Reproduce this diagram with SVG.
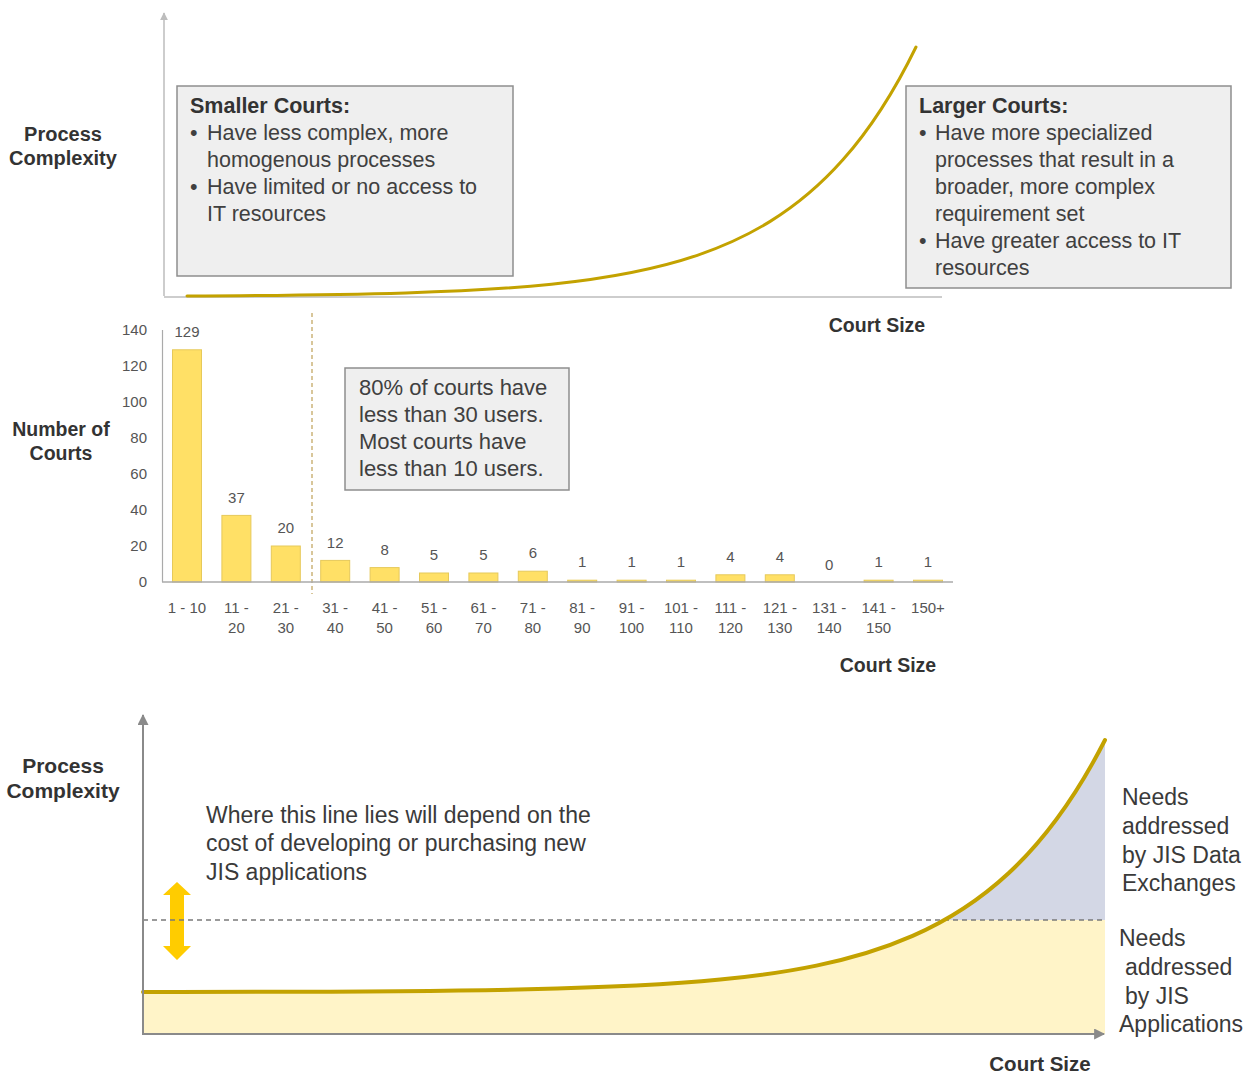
<svg xmlns="http://www.w3.org/2000/svg" width="1252" height="1074" viewBox="0 0 1252 1074">
  <style>
    text { font-family: "Liberation Sans", Arial, sans-serif; }
    .lbl { font-weight: bold; font-size: 20px; fill: #333; text-anchor: middle; }
    .box { fill: #efefef; stroke: #8e8e8e; stroke-width: 1.5; }
    .boxtitle { font-weight: bold; font-size: 21.5px; fill: #333; }
    .boxtxt { font-size: 21.5px; fill: #404040; }
    .axis-lt { stroke: #bdbdbd; stroke-width: 1.5; fill: none; }
    .axis { stroke: #8a8a8a; stroke-width: 2; fill: none; }
    .curve { fill: none; stroke: #c3a200; stroke-width: 3; stroke-linecap: round; }
    .bar { fill: #ffe066; stroke: #e6c95a; stroke-width: 1; }
    .tick { font-size: 15px; fill: #555; text-anchor: end; }
    .val { font-size: 15px; fill: #555; text-anchor: middle; }
    .cat { font-size: 15px; fill: #555; text-anchor: middle; }
    .body { font-size: 23px; fill: #3a3a3a; }
  </style>
  <defs>
    <marker id="arrowLight" viewBox="0 0 10 10" refX="9" refY="5" markerWidth="8" markerHeight="10" markerUnits="userSpaceOnUse" orient="auto">
      <path d="M0,0 L10,5 L0,10 Z" fill="#bdbdbd"/>
    </marker>
    <marker id="arrowDark" viewBox="0 0 10 10" refX="9" refY="5" markerWidth="12" markerHeight="11" markerUnits="userSpaceOnUse" orient="auto">
      <path d="M0,0 L10,5 L0,10 Z" fill="#8a8a8a"/>
    </marker>
    <clipPath id="aboveLine"><rect x="0" y="700" width="1252" height="220"/></clipPath>
    <clipPath id="belowLine"><rect x="0" y="920" width="1252" height="120"/></clipPath>
    <!-- area under the lower complexity curve, split by the threshold line -->
    <path id="underCurve" d="M143,992 C271.3,991.9 399.5,992.1 527.8,989.3 C591.9,987.9 656.1,985.9 720.2,979.6 C752.3,976.5 784.3,972.2 816.4,965.6 C848.5,959 880.5,950 912.6,935.9 C944.7,921.8 976.7,902.8 1008.8,873 C1040.9,843.2 1072.9,803 1105,740 L1105,1034 L143,1034 Z"/>
  </defs>

  <!-- Panel 1: complexity curve by court size -->
  <g id="panel-complexity-top">
    <g id="axes-top">
      <line class="axis-lt" x1="164" y1="296" x2="164" y2="13" marker-end="url(#arrowLight)"/>
      <line class="axis-lt" x1="164" y1="297" x2="942" y2="297"/>
    </g>
    <g id="label-process-top">
      <text class="lbl" x="63" y="141">Process</text>
      <text class="lbl" x="63" y="165">Complexity</text>
    </g>
    <g id="box-smaller">
      <rect class="box" x="177" y="86" width="336" height="190"/>
      <text class="boxtitle" x="190" y="113">Smaller Courts:</text>
      <text class="boxtxt" x="190" y="140">•</text>
      <text class="boxtxt" x="207" y="140">Have less complex, more</text>
      <text class="boxtxt" x="207" y="167">homogenous processes</text>
      <text class="boxtxt" x="190" y="194">•</text>
      <text class="boxtxt" x="207" y="194">Have limited or no access to</text>
      <text class="boxtxt" x="207" y="221">IT resources</text>
    </g>
    <path id="curve-top" class="curve" d="M187,296 C259.9,295.6 332.8,295.1 405.7,292.9 C454.3,291.4 502.9,289.2 551.5,284.2 C600.1,279.2 648.7,271.8 697.3,255.3 C721.6,247 745.9,236.4 770.2,221.4 C794.5,206.4 818.8,187 843.1,159.6 C867.4,132.2 891.7,96.9 916,47"/>
    <g id="box-larger">
      <rect class="box" x="906" y="86" width="325" height="202"/>
      <text class="boxtitle" x="919" y="113">Larger Courts:</text>
      <text class="boxtxt" x="919" y="140">•</text>
      <text class="boxtxt" x="935" y="140">Have more specialized</text>
      <text class="boxtxt" x="935" y="167">processes that result in a</text>
      <text class="boxtxt" x="935" y="194">broader, more complex</text>
      <text class="boxtxt" x="935" y="221">requirement set</text>
      <text class="boxtxt" x="919" y="248">•</text>
      <text class="boxtxt" x="935" y="248">Have greater access to IT</text>
      <text class="boxtxt" x="935" y="275">resources</text>
    </g>
  </g>

  <!-- Panel 2: number of courts by court size (bar chart) -->
  <g id="panel-bars">
    <text class="lbl" x="877" y="332" style="font-size:19.5px">Court Size</text>
    <g id="label-number">
      <text class="lbl" x="61" y="436" style="font-size:19.5px">Number of</text>
      <text class="lbl" x="61" y="460" style="font-size:19.5px">Courts</text>
    </g>
    <g id="y-ticks">
      <text class="tick" x="147" y="335">140</text>
      <text class="tick" x="147" y="371">120</text>
      <text class="tick" x="147" y="407">100</text>
      <text class="tick" x="147" y="443">80</text>
      <text class="tick" x="147" y="479">60</text>
      <text class="tick" x="147" y="515">40</text>
      <text class="tick" x="147" y="551">20</text>
      <text class="tick" x="147" y="587">0</text>
    </g>
    <line x1="312" y1="313" x2="312" y2="594" stroke="#cbb47a" stroke-width="1.5" stroke-dasharray="4,3"/>
    <g id="bars">
      <rect class="bar" x="172.5" y="349.8" width="29" height="232.2"/>
      <rect class="bar" x="221.9" y="515.4" width="29" height="66.6"/>
      <rect class="bar" x="271.3" y="546" width="29" height="36"/>
      <rect class="bar" x="320.7" y="560.4" width="29" height="21.6"/>
      <rect class="bar" x="370.1" y="567.6" width="29" height="14.4"/>
      <rect class="bar" x="419.5" y="573" width="29" height="9"/>
      <rect class="bar" x="468.9" y="573" width="29" height="9"/>
      <rect class="bar" x="518.3" y="571.2" width="29" height="10.8"/>
      <rect class="bar" x="567.7" y="580.2" width="29" height="1.8"/>
      <rect class="bar" x="617.1" y="580.2" width="29" height="1.8"/>
      <rect class="bar" x="666.5" y="580.2" width="29" height="1.8"/>
      <rect class="bar" x="715.9" y="574.8" width="29" height="7.2"/>
      <rect class="bar" x="765.3" y="574.8" width="29" height="7.2"/>
      <rect class="bar" x="864.1" y="580.2" width="29" height="1.8"/>
      <rect class="bar" x="913.5" y="580.2" width="29" height="1.8"/>
    </g>
    <g id="bar-axes">
      <line x1="162.5" y1="330" x2="162.5" y2="582" stroke="#aaa" stroke-width="1.2"/>
      <line x1="162" y1="582" x2="953" y2="582" stroke="#aaa" stroke-width="1.5"/>
    </g>
    <g id="bar-values">
      <text class="val" x="187" y="337">129</text>
      <text class="val" x="236.4" y="503">37</text>
      <text class="val" x="285.8" y="533">20</text>
      <text class="val" x="335.2" y="548">12</text>
      <text class="val" x="384.6" y="555">8</text>
      <text class="val" x="434" y="560">5</text>
      <text class="val" x="483.4" y="560">5</text>
      <text class="val" x="532.8" y="558">6</text>
      <text class="val" x="582.2" y="567">1</text>
      <text class="val" x="631.6" y="567">1</text>
      <text class="val" x="681" y="567">1</text>
      <text class="val" x="730.4" y="562">4</text>
      <text class="val" x="779.8" y="562">4</text>
      <text class="val" x="829.2" y="570">0</text>
      <text class="val" x="878.6" y="567">1</text>
      <text class="val" x="928" y="567">1</text>
    </g>
    <g id="categories">
      <text class="cat" x="187" y="613">1 - 10</text>
      <text class="cat" x="236.4" y="613">11 -</text><text class="cat" x="236.4" y="633">20</text>
      <text class="cat" x="285.8" y="613">21 -</text><text class="cat" x="285.8" y="633">30</text>
      <text class="cat" x="335.2" y="613">31 -</text><text class="cat" x="335.2" y="633">40</text>
      <text class="cat" x="384.6" y="613">41 -</text><text class="cat" x="384.6" y="633">50</text>
      <text class="cat" x="434" y="613">51 -</text><text class="cat" x="434" y="633">60</text>
      <text class="cat" x="483.4" y="613">61 -</text><text class="cat" x="483.4" y="633">70</text>
      <text class="cat" x="532.8" y="613">71 -</text><text class="cat" x="532.8" y="633">80</text>
      <text class="cat" x="582.2" y="613">81 -</text><text class="cat" x="582.2" y="633">90</text>
      <text class="cat" x="631.6" y="613">91 -</text><text class="cat" x="631.6" y="633">100</text>
      <text class="cat" x="681" y="613">101 -</text><text class="cat" x="681" y="633">110</text>
      <text class="cat" x="730.4" y="613">111 -</text><text class="cat" x="730.4" y="633">120</text>
      <text class="cat" x="779.8" y="613">121 -</text><text class="cat" x="779.8" y="633">130</text>
      <text class="cat" x="829.2" y="613">131 -</text><text class="cat" x="829.2" y="633">140</text>
      <text class="cat" x="878.6" y="613">141 -</text><text class="cat" x="878.6" y="633">150</text>
      <text class="cat" x="928" y="613">150+</text>
    </g>
    <g id="box-stats">
      <rect class="box" x="345" y="368" width="224" height="122"/>
      <text class="boxtxt" x="359" y="395" style="font-size:22px">80% of courts have</text>
      <text class="boxtxt" x="359" y="422" style="font-size:22px">less than 30 users.</text>
      <text class="boxtxt" x="359" y="449" style="font-size:22px">Most courts have</text>
      <text class="boxtxt" x="359" y="476" style="font-size:22px">less than 10 users.</text>
    </g>
    <text class="lbl" x="888" y="672" style="font-size:19.5px">Court Size</text>
  </g>

  <!-- Panel 3: threshold between applications and data exchanges -->
  <g id="panel-complexity-bottom">
    <g id="fill-regions">
      <use href="#underCurve" clip-path="url(#aboveLine)" fill="#d3d7e5"/>
      <use href="#underCurve" clip-path="url(#belowLine)" fill="#fff4c8"/>
    </g>
    <g id="label-process-bottom">
      <text class="lbl" x="63" y="773" style="font-size:21px">Process</text>
      <text class="lbl" x="63" y="798" style="font-size:21px">Complexity</text>
    </g>
    <g id="note">
      <text class="body" x="206" y="823">Where this line lies will depend on the</text>
      <text class="body" x="206" y="851">cost of developing or purchasing new</text>
      <text class="body" x="206" y="880">JIS applications</text>
    </g>
    <polygon id="range-arrow" fill="#ffcc00" points="177,882 191,895 184,895 184,946 191,946 177,960 163,946 170,946 170,895 163,895"/>
    <line id="threshold" x1="143" y1="920" x2="1104" y2="920" stroke="#7a7a7a" stroke-width="1.5" stroke-dasharray="5,4"/>
    <path id="curve-bottom" class="curve" style="stroke-width:4" d="M143,992 C271.3,991.9 399.5,992.1 527.8,989.3 C591.9,987.9 656.1,985.9 720.2,979.6 C752.3,976.5 784.3,972.2 816.4,965.6 C848.5,959 880.5,950 912.6,935.9 C944.7,921.8 976.7,902.8 1008.8,873 C1040.9,843.2 1072.9,803 1105,740"/>
    <g id="axes-bottom">
      <line class="axis" x1="143" y1="1034" x2="143" y2="715" marker-end="url(#arrowDark)"/>
      <line class="axis" x1="142" y1="1034" x2="1104" y2="1034" marker-end="url(#arrowDark)"/>
    </g>
    <g id="label-exchanges">
      <text class="body" x="1122" y="805">Needs</text>
      <text class="body" x="1122" y="834">addressed</text>
      <text class="body" x="1122" y="863">by JIS Data</text>
      <text class="body" x="1122" y="891">Exchanges</text>
    </g>
    <g id="label-applications">
      <text class="body" x="1119" y="946">Needs</text>
      <text class="body" x="1125" y="975">addressed</text>
      <text class="body" x="1125" y="1004">by JIS</text>
      <text class="body" x="1119" y="1032">Applications</text>
    </g>
    <text class="lbl" x="1040" y="1071" style="font-size:20.5px">Court Size</text>
  </g>
</svg>
